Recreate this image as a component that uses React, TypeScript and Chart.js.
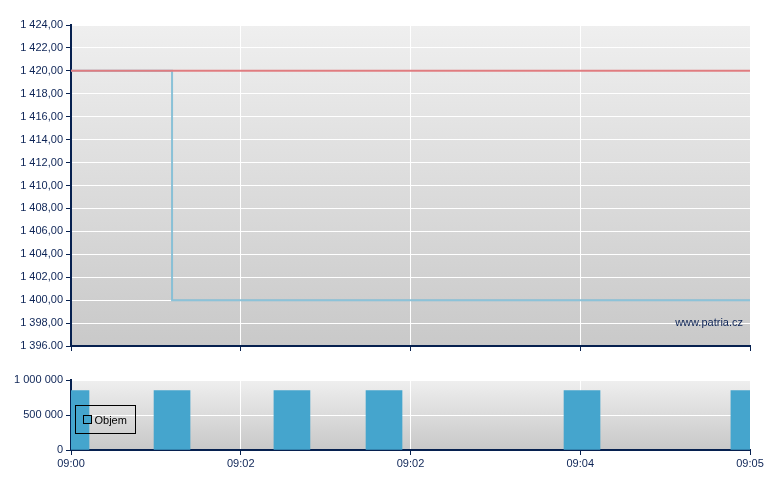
import React, { useEffect, useRef } from "react";
import { Chart, registerables } from "chart.js";

Chart.register(...registerables);

// ---- data ----
const timeTickLabels = ["09:00", "09:02", "09:02", "09:04", "09:05"]; // minutes 0..5, every 1.25
const priceTickLabels: Record<number, string> = {
  1396: "1 396.00",
  1398: "1 398,00",
  1400: "1 400,00",
  1402: "1 402,00",
  1404: "1 404,00",
  1406: "1 406,00",
  1408: "1 408,00",
  1410: "1 410,00",
  1412: "1 412,00",
  1414: "1 414,00",
  1416: "1 416,00",
  1418: "1 418,00",
  1420: "1 420,00",
  1422: "1 422,00",
  1424: "1 424,00",
};
const volumeTickLabels: Record<number, string> = {
  0: "0",
  500000: "500 000",
  1000000: "1 000 000",
};
const priceTimes = [0, 0.744, 5];
const priceValues = [1420, 1400, 1400];
const refTimes = [0, 5];
const refValues = [1420, 1420];
const volumeTimes = [0, 0.744, 1.627, 2.305, 3.763, 4.992];
const volumeValues = [850000, 850000, 850000, 850000, 850000, 850000];

// ---- styles ----
const NAVY = "#0d2456";
const AXIS = "#06204f";
const FONT = { family: "'Liberation Sans', Arial, sans-serif", size: 11 };

function bgPlugin(top: string, bottom: string) {
  return {
    id: "bg",
    beforeDraw(chart: any) {
      const { ctx, chartArea: a } = chart;
      const g = ctx.createLinearGradient(0, a.top, 0, a.bottom);
      g.addColorStop(0, top);
      g.addColorStop(1, bottom);
      ctx.save();
      ctx.fillStyle = g;
      ctx.fillRect(a.left, a.top, a.right - a.left, a.bottom - a.top);
      ctx.restore();
    },
  };
}

const watermarkPlugin = {
  id: "watermark",
  afterDatasetsDraw(chart: any) {
    const { ctx, chartArea: a } = chart;
    ctx.save();
    ctx.font = "11px 'Liberation Sans', Arial, sans-serif";
    ctx.fillStyle = NAVY;
    ctx.textAlign = "right";
    ctx.textBaseline = "middle";
    ctx.fillText("www.patria.cz", a.right - 7, a.bottom - 23);
    ctx.restore();
  },
};

const legendPlugin = {
  id: "boxLegend",
  afterDatasetsDraw(chart: any) {
    const { ctx, chartArea: a } = chart;
    const x = a.left + 4.5;
    const y = a.top + 25.5;
    ctx.save();
    ctx.strokeStyle = "#000";
    ctx.lineWidth = 1;
    ctx.strokeRect(x, y, 60, 28);
    ctx.fillStyle = "#45a5cd";
    ctx.fillRect(x + 8, y + 10, 8, 8);
    ctx.strokeRect(x + 8, y + 10, 8, 8);
    ctx.font = "11px 'Liberation Sans', Arial, sans-serif";
    ctx.fillStyle = "#000";
    ctx.textAlign = "left";
    ctx.textBaseline = "middle";
    ctx.fillText(chart.data.datasets[0].label, x + 19, y + 15);
    ctx.restore();
  },
};

function xScale(showLabels: boolean, height: number) {
  return {
    type: "linear",
    min: 0,
    max: 5,
    offset: false,
    ticks: {
      stepSize: 1.25,
      display: showLabels,
      color: NAVY,
      font: FONT,
      padding: 2,
      maxRotation: 0,
      autoSkip: false,
      callback: (_v: any, i: number) => timeTickLabels[i],
    },
    grid: { offset: false, color: "#ffffff", lineWidth: 1, tickColor: AXIS, tickLength: 5 },
    border: { color: AXIS, width: 2 },
    afterFit: (s: any) => {
      s.height = height;
    },
  };
}

export default function App() {
  const topRef = useRef<HTMLCanvasElement>(null);
  const botRef = useRef<HTMLCanvasElement>(null);

  useEffect(() => {
    const top = new Chart(topRef.current!, {
      type: "line",
      data: {
        datasets: [
          {
            label: "Reference",
            data: refTimes.map((t, i) => ({ x: t, y: refValues[i] })),
            borderColor: "#e07c80",
            borderWidth: 2,
            pointRadius: 0,
            fill: false,
          },
          {
            label: "Cena",
            data: priceTimes.map((t, i) => ({ x: t, y: priceValues[i] })),
            borderColor: "rgba(130,190,214,0.92)",
            borderWidth: 2,
            pointRadius: 0,
            stepped: true,
            fill: false,
          },
        ],
      },
      options: {
        responsive: false,
        animation: false,
        devicePixelRatio: 1,
        events: [],
        layout: { padding: { top: 25, right: 30, left: 0, bottom: 0 } },
        plugins: { legend: { display: false }, tooltip: { enabled: false } },
        scales: {
          x: xScale(false, 14) as any,
          y: {
            min: 1396,
            max: 1424,
            ticks: {
              stepSize: 2,
              color: NAVY,
              font: FONT,
              padding: 3,
              callback: (v: any) => priceTickLabels[Math.round(Number(v))] ?? "",
            },
            grid: { color: "#ffffff", lineWidth: 1, tickColor: AXIS, tickLength: 5 },
            border: { color: AXIS, width: 2 },
            afterFit: (s: any) => {
              s.width = 71;
            },
          },
        },
      },
      plugins: [bgPlugin("#efefef", "#c9c9c9"), watermarkPlugin],
    });

    const bot = new Chart(botRef.current!, {
      type: "bar",
      data: {
        datasets: [
          {
            label: "Objem",
            data: volumeTimes.map((t, i) => ({ x: t, y: volumeValues[i] })),
            backgroundColor: "#45a5cd",
            borderWidth: 0,
            barThickness: 36,
          },
        ],
      },
      options: {
        responsive: false,
        animation: false,
        devicePixelRatio: 1,
        events: [],
        layout: { padding: { top: 20, right: 30, left: 0, bottom: 0 } },
        plugins: { legend: { display: false }, tooltip: { enabled: false } },
        scales: {
          x: xScale(true, 40) as any,
          y: {
            min: 0,
            max: 1000000,
            ticks: {
              stepSize: 500000,
              color: NAVY,
              font: FONT,
              padding: 3,
              callback: (v: any) => volumeTickLabels[Math.round(Number(v))] ?? "",
            },
            grid: { color: "#ffffff", lineWidth: 1, tickColor: AXIS, tickLength: 5 },
            border: { color: AXIS, width: 2 },
            afterFit: (s: any) => {
              s.width = 71;
            },
          },
        },
      },
      plugins: [bgPlugin("#efefef", "#c8c8c8"), legendPlugin],
    });

    return () => {
      top.destroy();
      bot.destroy();
    };
  }, []);

  return (
    <div style={{ position: "absolute", left: 0, top: 0, width: 780, height: 490, background: "#fff" }}>
      <canvas
        ref={topRef}
        width={780}
        height={360}
        style={{ position: "absolute", left: 0, top: 0, width: 780, height: 360, display: "block" }}
      />
      <canvas
        ref={botRef}
        width={780}
        height={130}
        style={{ position: "absolute", left: 0, top: 360, width: 780, height: 130, display: "block" }}
      />
    </div>
  );
}
